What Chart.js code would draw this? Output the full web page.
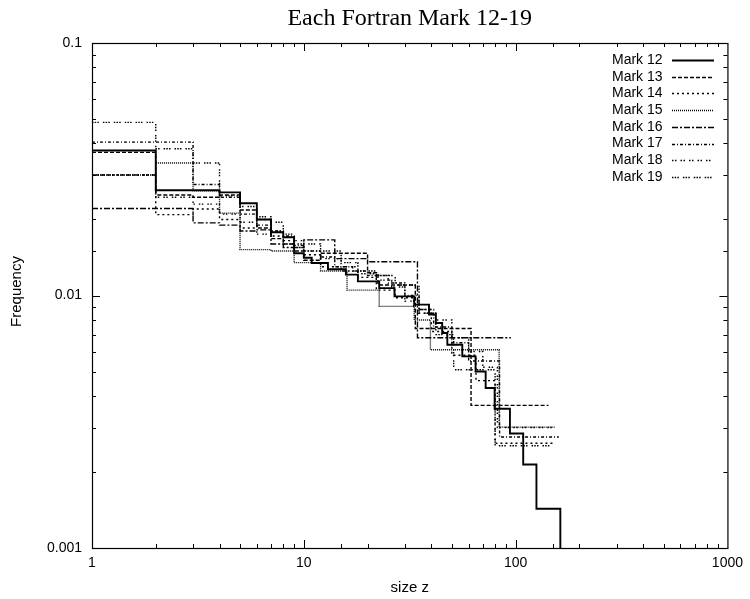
<!DOCTYPE html>
<html>
<head>
<meta charset="utf-8">
<title>Each Fortran Mark 12-19</title>
<script src="https://cdn.jsdelivr.net/npm/chart.js@4.4.1/dist/chart.umd.min.js"></script>
<style>
  html, body { margin: 0; padding: 0; background: #fff; }
  canvas { display: block; }
</style>
</head>
<body>
<canvas id="grafico" width="750" height="599"></canvas>
<script>
// bin left edges (size z) and frequency per bin; last value = level at the right end
const mark12Edges = [1, 2, 3, 4, 5, 6, 7, 8, 9, 10, 10.9, 13, 15.8, 18, 22.7, 26.8, 33.2, 39, 42, 45, 47.6, 56, 64.7, 72.2, 79.6, 94, 108.6, 125.4, 162.6];
const mark12Freq  = [0.0375, 0.0261, 0.0261, 0.0256, 0.0232, 0.0200, 0.0178, 0.0170, 0.0147, 0.0141, 0.01345, 0.0127, 0.0121, 0.01137, 0.0107, 0.00992, 0.0092, 0.0084, 0.00778, 0.0071, 0.00638, 0.00574, 0.0050, 0.0043, 0.00356, 0.00284, 0.00214, 0.00143, 0.001];

const mark13Edges = [1, 2, 3, 4, 5, 6, 7, 8, 9, 10, 12, 20, 22.4, 33.6, 61.6, 143];
const mark13Freq  = [0.0369, 0.0250, 0.0245, 0.0250, 0.0218, 0.0185, 0.0168, 0.0160, 0.0150, 0.0138, 0.0147, 0.0123, 0.0110, 0.0074, 0.00367, 0.00367];

const mark14Edges = [1, 2, 3, 4, 5, 6, 7, 8, 9, 10, 12, 15, 18, 22, 27, 33, 40, 50, 65, 80, 150];
const mark14Freq  = [0.0300, 0.0209, 0.0220, 0.0200, 0.0185, 0.0200, 0.0172, 0.0165, 0.0155, 0.0145, 0.0130, 0.0125, 0.0118, 0.0105, 0.0098, 0.0088, 0.0072, 0.0058, 0.0046, 0.0026, 0.0026];

const mark15Edges = [1, 2, 3, 4, 5, 7, 9, 12, 16, 22.7, 33.2, 39.6, 83.6, 154];
const mark15Freq  = [0.0300, 0.0335, 0.0260, 0.0212, 0.0152, 0.0150, 0.0135, 0.0125, 0.0105, 0.00906, 0.0080, 0.0061, 0.00301, 0.00301];

const mark16Edges = [1, 3, 4, 5, 6, 7, 8, 10, 14, 20, 34.4, 95];
const mark16Freq  = [0.0221, 0.0194, 0.0190, 0.0180, 0.0182, 0.0160, 0.0155, 0.0166, 0.0140, 0.0136, 0.0068, 0.0068];

const mark17Edges = [1, 3, 4, 5, 6, 7, 8, 9, 10, 12, 14, 17, 20, 25, 30, 35, 41, 50, 60, 84, 160];
const mark17Freq  = [0.0405, 0.0275, 0.0245, 0.0210, 0.0190, 0.0180, 0.0172, 0.0158, 0.0150, 0.0142, 0.0130, 0.0125, 0.0120, 0.0112, 0.0100, 0.0088, 0.0075, 0.0065, 0.0055, 0.00275, 0.00275];

const mark18Edges = [1, 2, 3, 4, 5, 6, 7, 8, 10, 12, 15, 18, 22, 26, 30, 35, 42, 50, 60, 70, 82, 150];
const mark18Freq  = [0.0300, 0.0245, 0.0230, 0.0210, 0.0195, 0.0175, 0.0180, 0.0160, 0.0150, 0.0140, 0.0130, 0.0122, 0.0115, 0.0108, 0.0095, 0.0085, 0.0080, 0.0068, 0.0060, 0.0052, 0.0030, 0.0030];

const mark19Edges = [1, 2, 3, 4, 5, 6, 7, 8, 9, 10, 12, 15, 18, 22, 27, 35, 42, 51, 80, 148];
const mark19Freq  = [0.0485, 0.0381, 0.0335, 0.0248, 0.0225, 0.0205, 0.0195, 0.0175, 0.0165, 0.0160, 0.0150, 0.0135, 0.0125, 0.0120, 0.0110, 0.0085, 0.0070, 0.00508, 0.00254, 0.00254];

const seriesNames = ['Mark 12', 'Mark 13', 'Mark 14', 'Mark 15', 'Mark 16', 'Mark 17', 'Mark 18', 'Mark 19'];
const xTickLabels = ['1', '10', '100', '1000'];
const yTickLabels = ['0.001', '0.01', '0.1'];

const sans = '"Liberation Sans", Arial, sans-serif';

// line styles, one per series
const dashes = [
    [],
    [4, 2],
    [2, 3],
    [1, 1],
    [6, 2, 2, 2],
    [3, 2, 1, 2],
    [1.5, 1.5, 1.5, 4],
    [1.5, 1.2, 1.5, 1.2, 1.5, 4]
];

function pontos(edges, freq) {
    return edges.map((x, i) => ({ x: x, y: freq[i] }));
}

const allEdges = [mark12Edges, mark13Edges, mark14Edges, mark15Edges, mark16Edges, mark17Edges, mark18Edges, mark19Edges];
const allFreq  = [mark12Freq, mark13Freq, mark14Freq, mark15Freq, mark16Freq, mark17Freq, mark18Freq, mark19Freq];

const datasets = seriesNames.map((name, i) => ({
    label: name,
    data: pontos(allEdges[i], allFreq[i]),
    stepped: 'before',
    borderColor: '#000',
    borderWidth: i === 0 ? 1.9 : 1.4,
    borderDash: dashes[i],
    pointRadius: 0,
    fill: false,
    tension: 0
}));

function isDecade(v) {
    const e = Math.log10(v);
    return Math.abs(e - Math.round(e)) < 1e-9;
}

// frame, inward ticks, titles and legend in gnuplot style
const molduraPlugin = {
    id: 'moldura',
    afterDraw(chart) {
        const { ctx, chartArea: a, scales: { x, y } } = chart;
        ctx.save();
        ctx.strokeStyle = '#000';
        ctx.lineWidth = 1.2;
        ctx.setLineDash([]);
        ctx.strokeRect(a.left + 0.5, a.top + 0.5, a.right - a.left, a.bottom - a.top);

        ctx.lineWidth = 1;
        ctx.beginPath();
        x.ticks.forEach(t => {
            const px = Math.round(x.getPixelForValue(t.value)) + 0.5;
            if (px <= a.left + 1 || px >= a.right - 1) return;
            const len = isDecade(t.value) ? 8 : 4;
            ctx.moveTo(px, a.bottom); ctx.lineTo(px, a.bottom - len);
            ctx.moveTo(px, a.top); ctx.lineTo(px, a.top + len);
        });
        y.ticks.forEach(t => {
            const py = Math.round(y.getPixelForValue(t.value)) + 0.5;
            if (py <= a.top + 1 || py >= a.bottom - 1) return;
            const len = isDecade(t.value) ? 8 : 4;
            ctx.moveTo(a.left, py); ctx.lineTo(a.left + len, py);
            ctx.moveTo(a.right, py); ctx.lineTo(a.right - len, py);
        });
        ctx.stroke();

        ctx.fillStyle = '#000';
        ctx.font = '24px "Liberation Serif", "Times New Roman", serif';
        ctx.textAlign = 'center';
        ctx.textBaseline = 'alphabetic';
        ctx.fillText('Each Fortran Mark 12-19', (a.left + a.right) / 2, 25);

        ctx.font = '15px ' + sans;
        ctx.textBaseline = 'middle';
        ctx.fillText('size z', (a.left + a.right) / 2, 588);

        ctx.save();
        ctx.translate(17, (a.top + a.bottom) / 2 - 4);
        ctx.rotate(-Math.PI / 2);
        ctx.fillText('Frequency', 0, 0);
        ctx.restore();

        // legend
        ctx.font = '14px ' + sans;
        ctx.textAlign = 'left';
        chart.data.datasets.forEach((ds, i) => {
            const ry = 60 + i * 16.7;
            ctx.fillText(ds.label, 612, ry);
            ctx.beginPath();
            ctx.lineWidth = ds.borderWidth;
            ctx.setLineDash(ds.borderDash);
            ctx.moveTo(672, Math.round(ry) + 0.5);
            ctx.lineTo(714, Math.round(ry) + 0.5);
            ctx.stroke();
        });
        ctx.restore();
    }
};

new Chart(document.getElementById('grafico').getContext('2d'), {
    type: 'line',
    data: { datasets: datasets },
    options: {
        responsive: false,
        animation: false,
        layout: { padding: { top: 43, right: 19, left: 0, bottom: 0 } },
        plugins: {
            legend: { display: false },
            tooltip: { enabled: false }
        },
        scales: {
            x: {
                type: 'logarithmic',
                min: 1,
                max: 1000,
                grid: { display: false, drawTicks: false },
                border: { display: false },
                ticks: {
                    autoSkip: false,
                    maxRotation: 0,
                    padding: 7,
                    color: '#000',
                    font: { family: sans, size: 14 },
                    callback: v => isDecade(v) ? xTickLabels[Math.round(Math.log10(v))] : ''
                },
                afterFit: s => { s.height = 51; }
            },
            y: {
                type: 'logarithmic',
                min: 0.001,
                max: 0.1,
                grid: { display: false, drawTicks: false },
                border: { display: false },
                ticks: {
                    autoSkip: false,
                    padding: 10,
                    color: '#000',
                    font: { family: sans, size: 14 },
                    callback: v => isDecade(v) ? yTickLabels[Math.round(Math.log10(v)) + 3] : ''
                },
                afterFit: s => { s.width = 92; }
            }
        }
    },
    plugins: [molduraPlugin]
});
</script>
</body>
</html>
